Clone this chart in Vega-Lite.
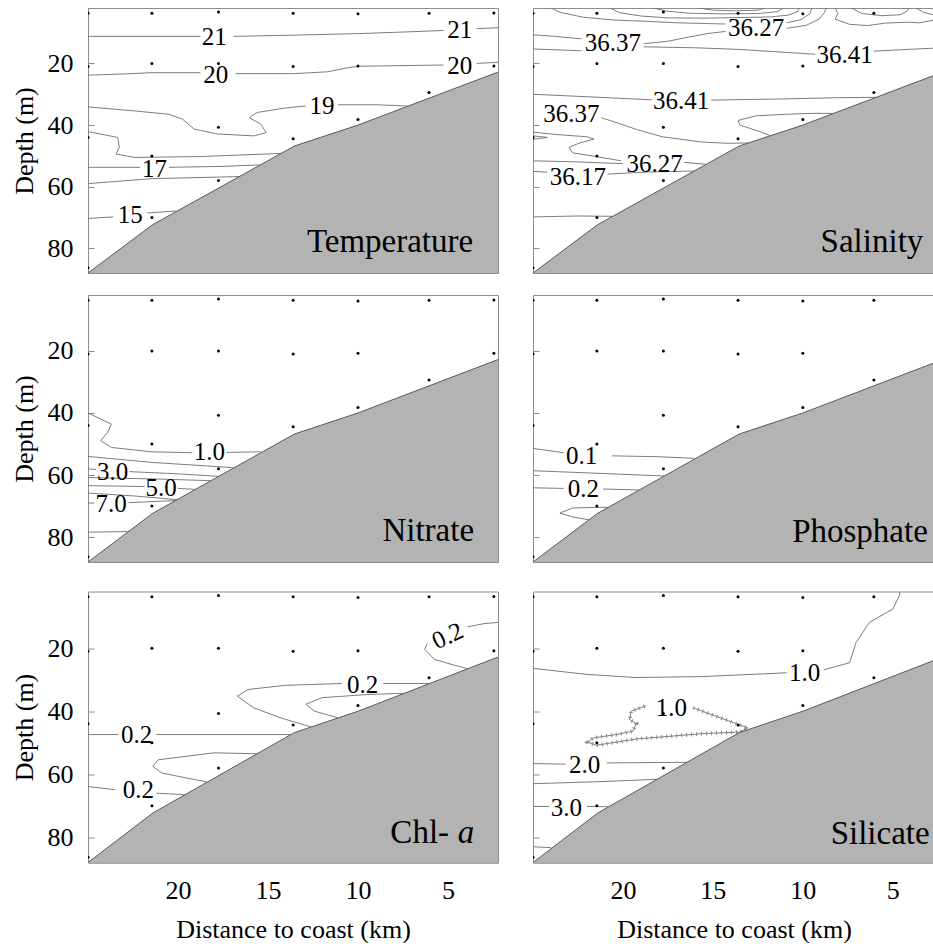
{
"$schema": "https://vega.github.io/schema/vega-lite/v6.json",
"background": "white",
"padding": {"left": 10, "top": 7, "right": 0, "bottom": 0},
"config": {
 "font": "Liberation Serif",
 "view": {"stroke": "#8c8c8c", "strokeWidth": 1},
 "axis": {"domainColor": "#8c8c8c", "tickColor": "#8c8c8c", "domainWidth": 1, "tickWidth": 1, "labelFont": "Liberation Serif", "labelFontSize": 26, "labelColor": "#000", "titleFont": "Liberation Serif", "titleFontSize": 26, "titleFontWeight": "normal", "titleColor": "#000", "grid": false, "labelPadding": 21, "titlePadding": 10, "labelFlush": false, "labelOverlap": false}
},
"datasets": {
 "stations": [
  {"dist":25,"depth":3.7},{"dist":25,"depth":21},{"dist":25,"depth":44},{"dist":25,"depth":86.3},
  {"dist":21.45,"depth":3.7},{"dist":21.45,"depth":20},{"dist":21.45,"depth":50},{"dist":21.45,"depth":70},
  {"dist":17.75,"depth":3.3},{"dist":17.75,"depth":20},{"dist":17.75,"depth":40.7},{"dist":17.75,"depth":58},
  {"dist":13.6,"depth":3.7},{"dist":13.6,"depth":21},{"dist":13.6,"depth":44.4},
  {"dist":10,"depth":3.9},{"dist":10,"depth":20.8},{"dist":10,"depth":38.2},
  {"dist":6.05,"depth":3.7},{"dist":6.05,"depth":29.4},
  {"dist":2.45,"depth":3.6},{"dist":2.45,"depth":20.8}
 ],
 "bottom": [{"dist":25,"depth":88},{"dist":21.4,"depth":72.3},{"dist":13.54,"depth":46.8},{"dist":10,"depth":40},{"dist":2.22,"depth":22.8}],
 "titles": [
  {"panel":"T","text":"Temperature","dist":3.6,"depth":81.2},
  {"panel":"S","text":"Salinity","dist":3.3,"depth":81.2},
  {"panel":"N","text":"Nitrate","dist":3.55,"depth":81.2},
  {"panel":"P","text":"Phosphate","dist":3.05,"depth":81.5},
  {"panel":"C","text":"Chl-","dist":4.94,"depth":81.9},
  {"panel":"C","text":"a","dist":3.54,"depth":81.9},
  {"panel":"Si","text":"Silicate","dist":2.95,"depth":82}
 ],
 "labels": [
  {"panel":"T","text":"21","dist":17.98,"depth":11.4},
  {"panel":"T","text":"21","dist":4.35,"depth":9.3},
  {"panel":"T","text":"20","dist":17.9,"depth":23.6},
  {"panel":"T","text":"20","dist":4.35,"depth":20.7},
  {"panel":"T","text":"19","dist":12.0,"depth":33.9},
  {"panel":"T","text":"17","dist":21.3,"depth":54.2},
  {"panel":"T","text":"15","dist":22.65,"depth":69.3},
  {"panel":"S","text":"36.37","dist":20.56,"depth":13.3},
  {"panel":"S","text":"36.27","dist":12.6,"depth":8.5},
  {"panel":"S","text":"36.41","dist":7.68,"depth":17.1},
  {"panel":"S","text":"36.41","dist":16.76,"depth":32.2},
  {"panel":"S","text":"36.37","dist":22.87,"depth":36.5},
  {"panel":"S","text":"36.27","dist":18.24,"depth":52.6},
  {"panel":"S","text":"36.17","dist":22.5,"depth":56.7},
  {"panel":"N","text":"1.0","dist":18.26,"depth":52.7},
  {"panel":"N","text":"3.0","dist":23.63,"depth":58.9},
  {"panel":"N","text":"5.0","dist":20.94,"depth":64.3},
  {"panel":"N","text":"7.0","dist":23.72,"depth":69.3},
  {"panel":"P","text":"0.1","dist":22.3,"depth":53.8},
  {"panel":"P","text":"0.2","dist":22.2,"depth":64.5},
  {"panel":"Crot","text":"0.2","dist":5.02,"depth":16.1},
  {"panel":"C","text":"0.2","dist":9.74,"depth":31.6},
  {"panel":"C","text":"0.2","dist":22.3,"depth":47.4},
  {"panel":"C","text":"0.2","dist":22.2,"depth":65.1},
  {"panel":"Si","text":"1.0","dist":9.9,"depth":27.8},
  {"panel":"Si","text":"1.0","dist":17.3,"depth":38.9},
  {"panel":"Si","text":"2.0","dist":22.13,"depth":56.95},
  {"panel":"Si","text":"3.0","dist":23.15,"depth":70.8}
 ],
 "lines": [
  {"panel":"T","line":"T1a","dist":25,"depth":11.2},{"panel":"T","line":"T1a","dist":22,"depth":11.2},{"panel":"T","line":"T1a","dist":18.75,"depth":11.2},
  {"panel":"T","line":"T1b","dist":16.9,"depth":11.2},{"panel":"T","line":"T1b","dist":13.5,"depth":10.8},{"panel":"T","line":"T1b","dist":9.93,"depth":10.3},{"panel":"T","line":"T1b","dist":7.5,"depth":9.8},{"panel":"T","line":"T1b","dist":5.25,"depth":9.3},
  {"panel":"T","line":"T1c","dist":3.4,"depth":8.7},{"panel":"T","line":"T1c","dist":2.22,"depth":8.4},
  {"panel":"T","line":"T2a","dist":25,"depth":23.8},{"panel":"T","line":"T2a","dist":23,"depth":23.4},{"panel":"T","line":"T2a","dist":21.5,"depth":23.0},{"panel":"T","line":"T2a","dist":18.75,"depth":23.0},
  {"panel":"T","line":"T2b","dist":16.8,"depth":23.3},{"panel":"T","line":"T2b","dist":13.54,"depth":23.3},{"panel":"T","line":"T2b","dist":11.7,"depth":22.7},{"panel":"T","line":"T2b","dist":10.57,"depth":21.4},{"panel":"T","line":"T2b","dist":9.93,"depth":20.9},{"panel":"T","line":"T2b","dist":7.5,"depth":20.7},{"panel":"T","line":"T2b","dist":5.25,"depth":20.5},
  {"panel":"T","line":"T2c","dist":3.4,"depth":20.0},{"panel":"T","line":"T2c","dist":2.22,"depth":19.6},
  {"panel":"T","line":"T3a","dist":25,"depth":34.1},{"panel":"T","line":"T3a","dist":22.4,"depth":35.4},{"panel":"T","line":"T3a","dist":20.5,"depth":36.5},{"panel":"T","line":"T3a","dist":19.74,"depth":38.1},{"panel":"T","line":"T3a","dist":19.1,"depth":41.3},{"panel":"T","line":"T3a","dist":17.8,"depth":42.9},{"panel":"T","line":"T3a","dist":15.76,"depth":43.5},{"panel":"T","line":"T3a","dist":15.1,"depth":42.4},{"panel":"T","line":"T3a","dist":15.4,"depth":39.7},{"panel":"T","line":"T3a","dist":16.04,"depth":37.6},{"panel":"T","line":"T3a","dist":15.6,"depth":35.9},{"panel":"T","line":"T3a","dist":14.1,"depth":34.5},{"panel":"T","line":"T3a","dist":12.9,"depth":33.8},
  {"panel":"T","line":"T3b","dist":11.1,"depth":33.4},{"panel":"T","line":"T3b","dist":9.0,"depth":33.4},{"panel":"T","line":"T3b","dist":7.24,"depth":33.8},
  {"panel":"T","line":"T4","dist":25,"depth":42.1},{"panel":"T","line":"T4","dist":23.35,"depth":44.0},{"panel":"T","line":"T4","dist":23.26,"depth":47.2},{"panel":"T","line":"T4","dist":23.44,"depth":49.4},{"panel":"T","line":"T4","dist":22.4,"depth":50.5},{"panel":"T","line":"T4","dist":18.7,"depth":50.2},{"panel":"T","line":"T4","dist":14.28,"depth":49.2},
  {"panel":"T","line":"T5a","dist":25,"depth":53.7},{"panel":"T","line":"T5a","dist":22.1,"depth":53.7},
  {"panel":"T","line":"T5b","dist":20.5,"depth":53.7},{"panel":"T","line":"T5b","dist":17.5,"depth":53.4},{"panel":"T","line":"T5b","dist":15.4,"depth":52.9},
  {"panel":"T","line":"T6","dist":25,"depth":59.0},{"panel":"T","line":"T6","dist":21.5,"depth":57.4},{"panel":"T","line":"T6","dist":16.6,"depth":56.7},
  {"panel":"T","line":"T7a","dist":25,"depth":70.3},{"panel":"T","line":"T7a","dist":23.6,"depth":69.8},
  {"panel":"T","line":"T7b","dist":21.7,"depth":68.5},{"panel":"T","line":"T7b","dist":20.1,"depth":67.9},

  {"panel":"S","line":"S1a","dist":25,"depth":10.7},{"panel":"S","line":"S1a","dist":23.8,"depth":11.2},{"panel":"S","line":"S1a","dist":22.3,"depth":12.0},
  {"panel":"S","line":"S1b","dist":18.85,"depth":13.6},{"panel":"S","line":"S1b","dist":17.5,"depth":12.8},{"panel":"S","line":"S1b","dist":16.5,"depth":11.6},{"panel":"S","line":"S1b","dist":15.3,"depth":10.3},{"panel":"S","line":"S1b","dist":14.3,"depth":9.6},
  {"panel":"S","line":"S1c","dist":10.9,"depth":8.6},{"panel":"S","line":"S1c","dist":9.8,"depth":7.6},{"panel":"S","line":"S1c","dist":9.1,"depth":5.6},{"panel":"S","line":"S1c","dist":8.8,"depth":3.5},{"panel":"S","line":"S1c","dist":8.7,"depth":2.0},
  {"panel":"S","line":"S2a","dist":24,"depth":2.0},{"panel":"S","line":"S2a","dist":23.5,"depth":3.4},{"panel":"S","line":"S2a","dist":22.2,"depth":5.0},{"panel":"S","line":"S2a","dist":20.5,"depth":5.9},{"panel":"S","line":"S2a","dist":18.8,"depth":6.3},{"panel":"S","line":"S2a","dist":17.0,"depth":6.8},{"panel":"S","line":"S2a","dist":14.3,"depth":7.2},
  {"panel":"S","line":"S2b","dist":10.9,"depth":6.8},{"panel":"S","line":"S2b","dist":10.1,"depth":5.8},{"panel":"S","line":"S2b","dist":9.6,"depth":3.8},{"panel":"S","line":"S2b","dist":9.5,"depth":2.0},
  {"panel":"S","line":"S3","dist":20.7,"depth":2.0},{"panel":"S","line":"S3","dist":20.2,"depth":3.5},{"panel":"S","line":"S3","dist":19.0,"depth":4.6},{"panel":"S","line":"S3","dist":17.5,"depth":5.2},{"panel":"S","line":"S3","dist":15.5,"depth":5.3},{"panel":"S","line":"S3","dist":13.5,"depth":5.1},{"panel":"S","line":"S3","dist":11.8,"depth":4.9},{"panel":"S","line":"S3","dist":10.8,"depth":4.3},{"panel":"S","line":"S3","dist":10.3,"depth":3.2},{"panel":"S","line":"S3","dist":10.2,"depth":2.0},
  {"panel":"S","line":"S4","dist":18.3,"depth":2.0},{"panel":"S","line":"S4","dist":17.6,"depth":3.0},{"panel":"S","line":"S4","dist":16.3,"depth":3.7},{"panel":"S","line":"S4","dist":14.5,"depth":3.9},{"panel":"S","line":"S4","dist":12.5,"depth":3.8},{"panel":"S","line":"S4","dist":11.4,"depth":3.2},{"panel":"S","line":"S4","dist":11.1,"depth":2.0},
  {"panel":"S","line":"S5","dist":15.8,"depth":2.0},{"panel":"S","line":"S5","dist":15.0,"depth":2.7},{"panel":"S","line":"S5","dist":13.8,"depth":2.9},{"panel":"S","line":"S5","dist":12.5,"depth":2.7},{"panel":"S","line":"S5","dist":12.1,"depth":2.0},
  {"panel":"S","line":"S6","dist":8.2,"depth":2.0},{"panel":"S","line":"S6","dist":8.05,"depth":3.8},{"panel":"S","line":"S6","dist":8.2,"depth":5.6},{"panel":"S","line":"S6","dist":7.4,"depth":7.3},{"panel":"S","line":"S6","dist":6.4,"depth":7.7},{"panel":"S","line":"S6","dist":5.4,"depth":6.9},{"panel":"S","line":"S6","dist":4.2,"depth":6.6},{"panel":"S","line":"S6","dist":3.5,"depth":6.8},{"panel":"S","line":"S6","dist":2.6,"depth":5.8},
  {"panel":"S","line":"S7","dist":7.3,"depth":2.0},{"panel":"S","line":"S7","dist":6.7,"depth":3.8},{"panel":"S","line":"S7","dist":5.6,"depth":4.5},{"panel":"S","line":"S7","dist":4.6,"depth":4.2},{"panel":"S","line":"S7","dist":4.2,"depth":3.0},{"panel":"S","line":"S7","dist":4.1,"depth":2.0},
  {"panel":"S","line":"S8","dist":3.7,"depth":2.0},{"panel":"S","line":"S8","dist":3.3,"depth":3.4},{"panel":"S","line":"S8","dist":2.6,"depth":4.4},
  {"panel":"S","line":"S9a","dist":25,"depth":15.3},{"panel":"S","line":"S9a","dist":23.5,"depth":15.6},{"panel":"S","line":"S9a","dist":22.3,"depth":15.9},
  {"panel":"S","line":"S9b","dist":18.85,"depth":14.6},{"panel":"S","line":"S9b","dist":16.0,"depth":14.9},{"panel":"S","line":"S9b","dist":13.7,"depth":15.4},{"panel":"S","line":"S9b","dist":11.5,"depth":16.2},{"panel":"S","line":"S9b","dist":9.3,"depth":17.0},
  {"panel":"S","line":"S9c","dist":6.05,"depth":16.0},{"panel":"S","line":"S9c","dist":4.0,"depth":15.4},{"panel":"S","line":"S9c","dist":2.6,"depth":15.0},
  {"panel":"S","line":"S10a","dist":25,"depth":30.0},{"panel":"S","line":"S10a","dist":22,"depth":30.8},{"panel":"S","line":"S10a","dist":18.4,"depth":31.8},
  {"panel":"S","line":"S10b","dist":15.1,"depth":31.9},{"panel":"S","line":"S10b","dist":11.0,"depth":31.5},{"panel":"S","line":"S10b","dist":8.0,"depth":31.1},{"panel":"S","line":"S10b","dist":5.94,"depth":31.0},
  {"panel":"S","line":"S11","dist":21.2,"depth":37.6},{"panel":"S","line":"S11","dist":20.2,"depth":39.5},{"panel":"S","line":"S11","dist":19.2,"depth":41.5},{"panel":"S","line":"S11","dist":17.8,"depth":43.8},{"panel":"S","line":"S11","dist":15.6,"depth":45.5},{"panel":"S","line":"S11","dist":14.2,"depth":45.9},{"panel":"S","line":"S11","dist":13.0,"depth":45.8},
  {"panel":"S","line":"S12","dist":8.3,"depth":36.2},{"panel":"S","line":"S12","dist":9.5,"depth":36.2},{"panel":"S","line":"S12","dist":11.0,"depth":36.5},{"panel":"S","line":"S12","dist":12.6,"depth":37.0},{"panel":"S","line":"S12","dist":13.6,"depth":38.5},{"panel":"S","line":"S12","dist":13.5,"depth":40.0},{"panel":"S","line":"S12","dist":12.6,"depth":41.7},{"panel":"S","line":"S12","dist":11.8,"depth":43.4},
  {"panel":"S","line":"S13","dist":25,"depth":43.5},{"panel":"S","line":"S13","dist":24.2,"depth":44.0},{"panel":"S","line":"S13","dist":25,"depth":44.6},
  {"panel":"S","line":"S14","dist":25,"depth":42.3},{"panel":"S","line":"S14","dist":23.8,"depth":43.0},{"panel":"S","line":"S14","dist":22.0,"depth":43.8},{"panel":"S","line":"S14","dist":21.6,"depth":44.5},{"panel":"S","line":"S14","dist":22.4,"depth":45.8},{"panel":"S","line":"S14","dist":23.0,"depth":47.2},{"panel":"S","line":"S14","dist":22.8,"depth":49.0},{"panel":"S","line":"S14","dist":21.4,"depth":50.3},{"panel":"S","line":"S14","dist":20.1,"depth":51.6},
  {"panel":"S","line":"S15a","dist":25,"depth":51.6},{"panel":"S","line":"S15a","dist":22.8,"depth":51.9},{"panel":"S","line":"S15a","dist":20.0,"depth":52.5},
  {"panel":"S","line":"S15b","dist":16.6,"depth":52.1},{"panel":"S","line":"S15b","dist":15.4,"depth":52.7},
  {"panel":"S","line":"S16a","dist":25,"depth":55.0},{"panel":"S","line":"S16a","dist":24.2,"depth":55.3},
  {"panel":"S","line":"S16b","dist":20.85,"depth":55.9},{"panel":"S","line":"S16b","dist":18.5,"depth":55.2},{"panel":"S","line":"S16b","dist":16.0,"depth":54.9},
  {"panel":"S","line":"S17","dist":25,"depth":69.8},{"panel":"S","line":"S17","dist":22.5,"depth":69.5},{"panel":"S","line":"S17","dist":20.6,"depth":69.6},

  {"panel":"N","line":"N1a","dist":25,"depth":40.0},{"panel":"N","line":"N1a","dist":23.7,"depth":43.6},{"panel":"N","line":"N1a","dist":23.9,"depth":46.2},{"panel":"N","line":"N1a","dist":24.3,"depth":48.9},{"panel":"N","line":"N1a","dist":23.7,"depth":51.1},{"panel":"N","line":"N1a","dist":21.5,"depth":52.5},{"panel":"N","line":"N1a","dist":19.2,"depth":52.8},
  {"panel":"N","line":"N1b","dist":17.3,"depth":52.7},{"panel":"N","line":"N1b","dist":15.4,"depth":52.5},
  {"panel":"N","line":"N2","dist":25,"depth":54.0},{"panel":"N","line":"N2","dist":21.5,"depth":55.9},{"panel":"N","line":"N2","dist":16.95,"depth":57.6},
  {"panel":"N","line":"N3a","dist":25,"depth":58.0},{"panel":"N","line":"N3a","dist":24.55,"depth":58.2},
  {"panel":"N","line":"N3b","dist":22.7,"depth":58.9},{"panel":"N","line":"N3b","dist":20.0,"depth":59.6},{"panel":"N","line":"N3b","dist":17.75,"depth":60.4},
  {"panel":"N","line":"N4","dist":25,"depth":60.8},{"panel":"N","line":"N4","dist":21.0,"depth":61.3},{"panel":"N","line":"N4","dist":18.2,"depth":61.8},
  {"panel":"N","line":"N5a","dist":25,"depth":63.4},{"panel":"N","line":"N5a","dist":21.85,"depth":63.7},
  {"panel":"N","line":"N5b","dist":20.0,"depth":64.3},{"panel":"N","line":"N5b","dist":19.05,"depth":64.6},
  {"panel":"N","line":"N6","dist":25,"depth":65.8},{"panel":"N","line":"N6","dist":22.5,"depth":66.7},{"panel":"N","line":"N6","dist":20.05,"depth":67.9},
  {"panel":"N","line":"N7a","dist":25,"depth":69.0},{"panel":"N","line":"N7a","dist":24.65,"depth":69.0},
  {"panel":"N","line":"N7b","dist":22.75,"depth":68.9},{"panel":"N","line":"N7b","dist":20.14,"depth":68.2},
  {"panel":"N","line":"N8","dist":25,"depth":78.4},{"panel":"N","line":"N8","dist":22.8,"depth":78.2},

  {"panel":"P","line":"P1a","dist":25,"depth":51.4},{"panel":"P","line":"P1a","dist":23.3,"depth":52.8},
  {"panel":"P","line":"P1b","dist":20.6,"depth":53.8},{"panel":"P","line":"P1b","dist":18.0,"depth":54.1},{"panel":"P","line":"P1b","dist":16.05,"depth":54.6},
  {"panel":"P","line":"P2","dist":25,"depth":58.6},{"panel":"P","line":"P2","dist":21.5,"depth":59.4},{"panel":"P","line":"P2","dist":17.7,"depth":60.3},
  {"panel":"P","line":"P3a","dist":25,"depth":64.1},{"panel":"P","line":"P3a","dist":23.3,"depth":64.3},
  {"panel":"P","line":"P3b","dist":21.1,"depth":64.5},{"panel":"P","line":"P3b","dist":19.1,"depth":64.8},
  {"panel":"P","line":"P4","dist":20.8,"depth":70.4},{"panel":"P","line":"P4","dist":21.3,"depth":70.4},{"panel":"P","line":"P4","dist":22.8,"depth":70.6},{"panel":"P","line":"P4","dist":23.5,"depth":72.2},{"panel":"P","line":"P4","dist":22.8,"depth":73.5},{"panel":"P","line":"P4","dist":21.9,"depth":74.4},

  {"panel":"C","line":"C1a","dist":2.22,"depth":11.8},{"panel":"C","line":"C1a","dist":3.0,"depth":12.2},{"panel":"C","line":"C1a","dist":3.9,"depth":13.2},
  {"panel":"C","line":"C1b","dist":6.15,"depth":18.5},{"panel":"C","line":"C1b","dist":6.3,"depth":20.3},{"panel":"C","line":"C1b","dist":5.76,"depth":23.5},{"panel":"C","line":"C1b","dist":4.7,"depth":25.3},{"panel":"C","line":"C1b","dist":3.9,"depth":26.5},
  {"panel":"C","line":"C2a","dist":12.6,"depth":45.0},{"panel":"C","line":"C2a","dist":14.3,"depth":42.1},{"panel":"C","line":"C2a","dist":15.8,"depth":38.9},{"panel":"C","line":"C2a","dist":16.7,"depth":35.2},{"panel":"C","line":"C2a","dist":16.1,"depth":33.1},{"panel":"C","line":"C2a","dist":14.1,"depth":31.8},{"panel":"C","line":"C2a","dist":10.9,"depth":31.2},
  {"panel":"C","line":"C2b","dist":8.6,"depth":31.2},{"panel":"C","line":"C2b","dist":6.05,"depth":31.2},
  {"panel":"C","line":"C3","dist":11.1,"depth":42.1},{"panel":"C","line":"C3","dist":12.4,"depth":40.0},{"panel":"C","line":"C3","dist":12.9,"depth":37.8},{"panel":"C","line":"C3","dist":12.0,"depth":35.7},{"panel":"C","line":"C3","dist":9.5,"depth":34.7},{"panel":"C","line":"C3","dist":7.43,"depth":34.3},
  {"panel":"C","line":"C4a","dist":25,"depth":47.4},{"panel":"C","line":"C4a","dist":23.3,"depth":47.4},
  {"panel":"C","line":"C4b","dist":21.2,"depth":47.4},{"panel":"C","line":"C4b","dist":13.75,"depth":47.4},
  {"panel":"C","line":"C5","dist":15.6,"depth":53.5},{"panel":"C","line":"C5","dist":18.0,"depth":53.2},{"panel":"C","line":"C5","dist":21.1,"depth":55.4},{"panel":"C","line":"C5","dist":21.4,"depth":57.5},{"panel":"C","line":"C5","dist":20.9,"depth":59.6},{"panel":"C","line":"C5","dist":19.5,"depth":61.2},{"panel":"C","line":"C5","dist":18.4,"depth":62.4},
  {"panel":"C","line":"C6a","dist":25,"depth":63.9},{"panel":"C","line":"C6a","dist":23.5,"depth":64.9},
  {"panel":"C","line":"C6b","dist":21.2,"depth":66.0},{"panel":"C","line":"C6b","dist":19.62,"depth":66.5},

  {"panel":"Si","line":"Si1a","dist":25,"depth":26.4},{"panel":"Si","line":"Si1a","dist":22.0,"depth":28.3},{"panel":"Si","line":"Si1a","dist":19.3,"depth":29.3},{"panel":"Si","line":"Si1a","dist":15.6,"depth":29.0},{"panel":"Si","line":"Si1a","dist":10.9,"depth":27.8},
  {"panel":"Si","line":"Si1b","dist":8.85,"depth":26.9},{"panel":"Si","line":"Si1b","dist":7.4,"depth":24.6},{"panel":"Si","line":"Si1b","dist":7.04,"depth":18.2},{"panel":"Si","line":"Si1b","dist":6.3,"depth":11.8},{"panel":"Si","line":"Si1b","dist":5.0,"depth":7.6},{"panel":"Si","line":"Si1b","dist":4.63,"depth":3.3},{"panel":"Si","line":"Si1b","dist":4.6,"depth":2.0},
  {"panel":"Si","line":"Si2","dist":16.1,"depth":38.9},{"panel":"Si","line":"Si2","dist":13.06,"depth":45.3},{"panel":"Si","line":"Si2","dist":13.5,"depth":46.6},{"panel":"Si","line":"Si2","dist":15.56,"depth":47.1},{"panel":"Si","line":"Si2","dist":19.26,"depth":48.8},{"panel":"Si","line":"Si2","dist":21.48,"depth":50.8},{"panel":"Si","line":"Si2","dist":21.94,"depth":49.8},{"panel":"Si","line":"Si2","dist":21.67,"depth":48.5},{"panel":"Si","line":"Si2","dist":20.37,"depth":47.4},{"panel":"Si","line":"Si2","dist":19.44,"depth":46.3},{"panel":"Si","line":"Si2","dist":19.26,"depth":43.9},{"panel":"Si","line":"Si2","dist":19.63,"depth":42.6},{"panel":"Si","line":"Si2","dist":19.54,"depth":40.0},{"panel":"Si","line":"Si2","dist":18.7,"depth":38.2},
  {"panel":"Si","line":"Si3a","dist":25,"depth":56.6},{"panel":"Si","line":"Si3a","dist":23.2,"depth":56.8},
  {"panel":"Si","line":"Si3b","dist":20.9,"depth":56.4},{"panel":"Si","line":"Si3b","dist":16.45,"depth":56.2},
  {"panel":"Si","line":"Si4","dist":25,"depth":63.0},{"panel":"Si","line":"Si4","dist":21.1,"depth":62.3},{"panel":"Si","line":"Si4","dist":18.1,"depth":61.6},
  {"panel":"Si","line":"Si5a","dist":25,"depth":70.2},{"panel":"Si","line":"Si5a","dist":24.1,"depth":70.2},
  {"panel":"Si","line":"Si5b","dist":22.0,"depth":70.2},{"panel":"Si","line":"Si5b","dist":20.8,"depth":70.3},
  {"panel":"Si","line":"Si6","dist":25,"depth":83.0},{"panel":"Si","line":"Si6","dist":24.0,"depth":83.3}
 ]
},
"vconcat": [
 {"vconcat": [
  {"hconcat": [
   {"width": 410, "height": 265,
    "encoding": {
     "x": {"field":"dist","type":"quantitative","scale":{"domain":[2.22,25],"reverse":true,"nice":false,"zero":false},"axis":{"values":[20,15,10,5],"labels":false,"title":null,"tickSize":-6}},
     "y": {"field":"depth","type":"quantitative","scale":{"domain":[2,88],"reverse":true,"nice":false,"zero":false},"axis":{"values":[20,40,60,80],"title":"Depth (m)","tickSize":-6}}},
    "layer": [
     {"data":{"name":"lines"},"transform":[{"filter":"datum.panel=='T'"}],"mark":{"type":"line","color":"#6e6e6e","strokeWidth":0.9,"clip":true},"encoding":{"detail":{"field":"line","type":"nominal"},"order":{"value":null}}},
     {"data":{"name":"bottom"},"mark":{"type":"area","color":"#b3b3b3","opacity":1,"clip":true},"encoding":{"y2":{"datum":88}}},
     {"data":{"name":"bottom"},"mark":{"type":"line","color":"#5a5a5a","strokeWidth":1,"clip":true},"encoding":{}},
     {"data":{"name":"labels"},"transform":[{"filter":"datum.panel=='T'"}],"mark":{"type":"text","font":"Liberation Serif","fontSize":25,"color":"#000","align":"center","baseline":"middle"},"encoding":{"text":{"field":"text","type":"nominal"}}},
     {"data":{"name":"stations"},"mark":{"type":"point","filled":true,"size":9,"color":"#000","opacity":1,"clip":true},"encoding":{}},
     {"data":{"name":"titles"},"transform":[{"filter":"datum.panel=='T'"}],"mark":{"type":"text","font":"Liberation Serif","fontSize":33,"color":"#000","align":"right","baseline":"alphabetic"},"encoding":{"text":{"field":"text","type":"nominal"}}}
    ]},
   {"width": 402, "height": 265,
    "encoding": {
     "x": {"field":"dist","type":"quantitative","scale":{"domain":[2.65,25],"reverse":true,"nice":false,"zero":false},"axis":{"values":[20,15,10,5],"labels":false,"title":null,"tickSize":-6}},
     "y": {"field":"depth","type":"quantitative","scale":{"domain":[2,88],"reverse":true,"nice":false,"zero":false},"axis":{"values":[20,40,60,80],"labels":false,"title":null,"tickSize":-6}}},
    "layer": [
     {"data":{"name":"lines"},"transform":[{"filter":"datum.panel=='S'"}],"mark":{"type":"line","color":"#6e6e6e","strokeWidth":0.9,"clip":true},"encoding":{"detail":{"field":"line","type":"nominal"},"order":{"value":null}}},
     {"data":{"name":"bottom"},"mark":{"type":"area","color":"#b3b3b3","opacity":1,"clip":true},"encoding":{"y2":{"datum":88}}},
     {"data":{"name":"bottom"},"mark":{"type":"line","color":"#5a5a5a","strokeWidth":1,"clip":true},"encoding":{}},
     {"data":{"name":"labels"},"transform":[{"filter":"datum.panel=='S'"}],"mark":{"type":"text","font":"Liberation Serif","fontSize":25,"color":"#000","align":"center","baseline":"middle"},"encoding":{"text":{"field":"text","type":"nominal"}}},
     {"data":{"name":"stations"},"mark":{"type":"point","filled":true,"size":9,"color":"#000","opacity":1,"clip":true},"encoding":{}},
     {"data":{"name":"titles"},"transform":[{"filter":"datum.panel=='S'"}],"mark":{"type":"text","font":"Liberation Serif","fontSize":33,"color":"#000","align":"right","baseline":"alphabetic"},"encoding":{"text":{"field":"text","type":"nominal"}}}
    ]}
  ], "spacing": 33},
  {"hconcat": [
   {"width": 410, "height": 267,
    "encoding": {
     "x": {"field":"dist","type":"quantitative","scale":{"domain":[2.22,25],"reverse":true,"nice":false,"zero":false},"axis":{"values":[20,15,10,5],"labels":false,"title":null,"tickSize":-6}},
     "y": {"field":"depth","type":"quantitative","scale":{"domain":[2,88],"reverse":true,"nice":false,"zero":false},"axis":{"values":[20,40,60,80],"title":"Depth (m)","tickSize":-6}}},
    "layer": [
     {"data":{"name":"lines"},"transform":[{"filter":"datum.panel=='N'"}],"mark":{"type":"line","color":"#6e6e6e","strokeWidth":0.9,"clip":true},"encoding":{"detail":{"field":"line","type":"nominal"},"order":{"value":null}}},
     {"data":{"name":"bottom"},"mark":{"type":"area","color":"#b3b3b3","opacity":1,"clip":true},"encoding":{"y2":{"datum":88}}},
     {"data":{"name":"bottom"},"mark":{"type":"line","color":"#5a5a5a","strokeWidth":1,"clip":true},"encoding":{}},
     {"data":{"name":"labels"},"transform":[{"filter":"datum.panel=='N'"}],"mark":{"type":"text","font":"Liberation Serif","fontSize":25,"color":"#000","align":"center","baseline":"middle"},"encoding":{"text":{"field":"text","type":"nominal"}}},
     {"data":{"name":"stations"},"mark":{"type":"point","filled":true,"size":9,"color":"#000","opacity":1,"clip":true},"encoding":{}},
     {"data":{"name":"titles"},"transform":[{"filter":"datum.panel=='N'"}],"mark":{"type":"text","font":"Liberation Serif","fontSize":33,"color":"#000","align":"right","baseline":"alphabetic"},"encoding":{"text":{"field":"text","type":"nominal"}}}
    ]},
   {"width": 402, "height": 267,
    "encoding": {
     "x": {"field":"dist","type":"quantitative","scale":{"domain":[2.65,25],"reverse":true,"nice":false,"zero":false},"axis":{"values":[20,15,10,5],"labels":false,"title":null,"tickSize":-6}},
     "y": {"field":"depth","type":"quantitative","scale":{"domain":[2,88],"reverse":true,"nice":false,"zero":false},"axis":{"values":[20,40,60,80],"labels":false,"title":null,"tickSize":-6}}},
    "layer": [
     {"data":{"name":"lines"},"transform":[{"filter":"datum.panel=='P'"}],"mark":{"type":"line","color":"#6e6e6e","strokeWidth":0.9,"clip":true},"encoding":{"detail":{"field":"line","type":"nominal"},"order":{"value":null}}},
     {"data":{"name":"bottom"},"mark":{"type":"area","color":"#b3b3b3","opacity":1,"clip":true},"encoding":{"y2":{"datum":88}}},
     {"data":{"name":"bottom"},"mark":{"type":"line","color":"#5a5a5a","strokeWidth":1,"clip":true},"encoding":{}},
     {"data":{"name":"labels"},"transform":[{"filter":"datum.panel=='P'"}],"mark":{"type":"text","font":"Liberation Serif","fontSize":25,"color":"#000","align":"center","baseline":"middle"},"encoding":{"text":{"field":"text","type":"nominal"}}},
     {"data":{"name":"stations"},"mark":{"type":"point","filled":true,"size":9,"color":"#000","opacity":1,"clip":true},"encoding":{}},
     {"data":{"name":"titles"},"transform":[{"filter":"datum.panel=='P'"}],"mark":{"type":"text","font":"Liberation Serif","fontSize":33,"color":"#000","align":"right","baseline":"alphabetic"},"encoding":{"text":{"field":"text","type":"nominal"}}}
    ]}
  ], "spacing": 33}
 ], "spacing": 20},
 {"hconcat": [
   {"width": 410, "height": 271,
    "encoding": {
     "x": {"field":"dist","type":"quantitative","scale":{"domain":[2.22,25],"reverse":true,"nice":false,"zero":false},"axis":{"values":[20,15,10,5],"title":"Distance to coast (km)","tickSize":-6,"labelPadding":21,"titlePadding":13}},
     "y": {"field":"depth","type":"quantitative","scale":{"domain":[2,88],"reverse":true,"nice":false,"zero":false},"axis":{"values":[20,40,60,80],"title":"Depth (m)","tickSize":-6}}},
    "layer": [
     {"data":{"name":"lines"},"transform":[{"filter":"datum.panel=='C'"}],"mark":{"type":"line","color":"#6e6e6e","strokeWidth":0.9,"clip":true},"encoding":{"detail":{"field":"line","type":"nominal"},"order":{"value":null}}},
     {"data":{"name":"bottom"},"mark":{"type":"area","color":"#b3b3b3","opacity":1,"clip":true},"encoding":{"y2":{"datum":88}}},
     {"data":{"name":"bottom"},"mark":{"type":"line","color":"#5a5a5a","strokeWidth":1,"clip":true},"encoding":{}},
     {"data":{"name":"labels"},"transform":[{"filter":"datum.panel=='C'"}],"mark":{"type":"text","font":"Liberation Serif","fontSize":25,"color":"#000","align":"center","baseline":"middle"},"encoding":{"text":{"field":"text","type":"nominal"}}},
     {"data":{"name":"labels"},"transform":[{"filter":"datum.panel=='Crot'"}],"mark":{"type":"text","font":"Liberation Serif","fontSize":25,"color":"#000","align":"center","baseline":"middle","angle":335},"encoding":{"text":{"field":"text","type":"nominal"}}},
     {"data":{"name":"stations"},"mark":{"type":"point","filled":true,"size":9,"color":"#000","opacity":1,"clip":true},"encoding":{}},
     {"data":{"name":"titles"},"transform":[{"filter":"datum.panel=='C' && datum.text!='a'"}],"mark":{"type":"text","font":"Liberation Serif","fontSize":33,"color":"#000","align":"right","baseline":"alphabetic"},"encoding":{"text":{"field":"text","type":"nominal"}}},
     {"data":{"name":"titles"},"transform":[{"filter":"datum.panel=='C' && datum.text=='a'"}],"mark":{"type":"text","font":"Liberation Serif","fontSize":33,"fontStyle":"italic","color":"#000","align":"right","baseline":"alphabetic"},"encoding":{"text":{"field":"text","type":"nominal"}}}
    ]},
   {"width": 402, "height": 271,
    "encoding": {
     "x": {"field":"dist","type":"quantitative","scale":{"domain":[2.65,25],"reverse":true,"nice":false,"zero":false},"axis":{"values":[20,15,10,5],"title":"Distance to coast (km)","tickSize":-6,"labelPadding":21,"titlePadding":13}},
     "y": {"field":"depth","type":"quantitative","scale":{"domain":[2,88],"reverse":true,"nice":false,"zero":false},"axis":{"values":[20,40,60,80],"labels":false,"title":null,"tickSize":-6}}},
    "layer": [
     {"data":{"name":"lines"},"transform":[{"filter":"datum.panel=='Si'"}],"mark":{"type":"line","color":"#6e6e6e","strokeWidth":0.9,"clip":true},"encoding":{"detail":{"field":"line","type":"nominal"},"order":{"value":null}}},
     {"data":{"name":"lines"},"transform":[{"filter":"datum.line=='Si2'"}],"mark":{"type":"line","color":"#8a8a8a","strokeWidth":4,"strokeDash":[1,4],"clip":true},"encoding":{"order":{"value":null}}},
     {"data":{"name":"bottom"},"mark":{"type":"area","color":"#b3b3b3","opacity":1,"clip":true},"encoding":{"y2":{"datum":88}}},
     {"data":{"name":"bottom"},"mark":{"type":"line","color":"#5a5a5a","strokeWidth":1,"clip":true},"encoding":{}},
     {"data":{"name":"labels"},"transform":[{"filter":"datum.panel=='Si'"}],"mark":{"type":"text","font":"Liberation Serif","fontSize":25,"color":"#000","align":"center","baseline":"middle"},"encoding":{"text":{"field":"text","type":"nominal"}}},
     {"data":{"name":"stations"},"mark":{"type":"point","filled":true,"size":9,"color":"#000","opacity":1,"clip":true},"encoding":{}},
     {"data":{"name":"titles"},"transform":[{"filter":"datum.panel=='Si'"}],"mark":{"type":"text","font":"Liberation Serif","fontSize":33,"color":"#000","align":"right","baseline":"alphabetic"},"encoding":{"text":{"field":"text","type":"nominal"}}}
    ]}
 ], "spacing": 33}
],
"spacing": 27.5
}
